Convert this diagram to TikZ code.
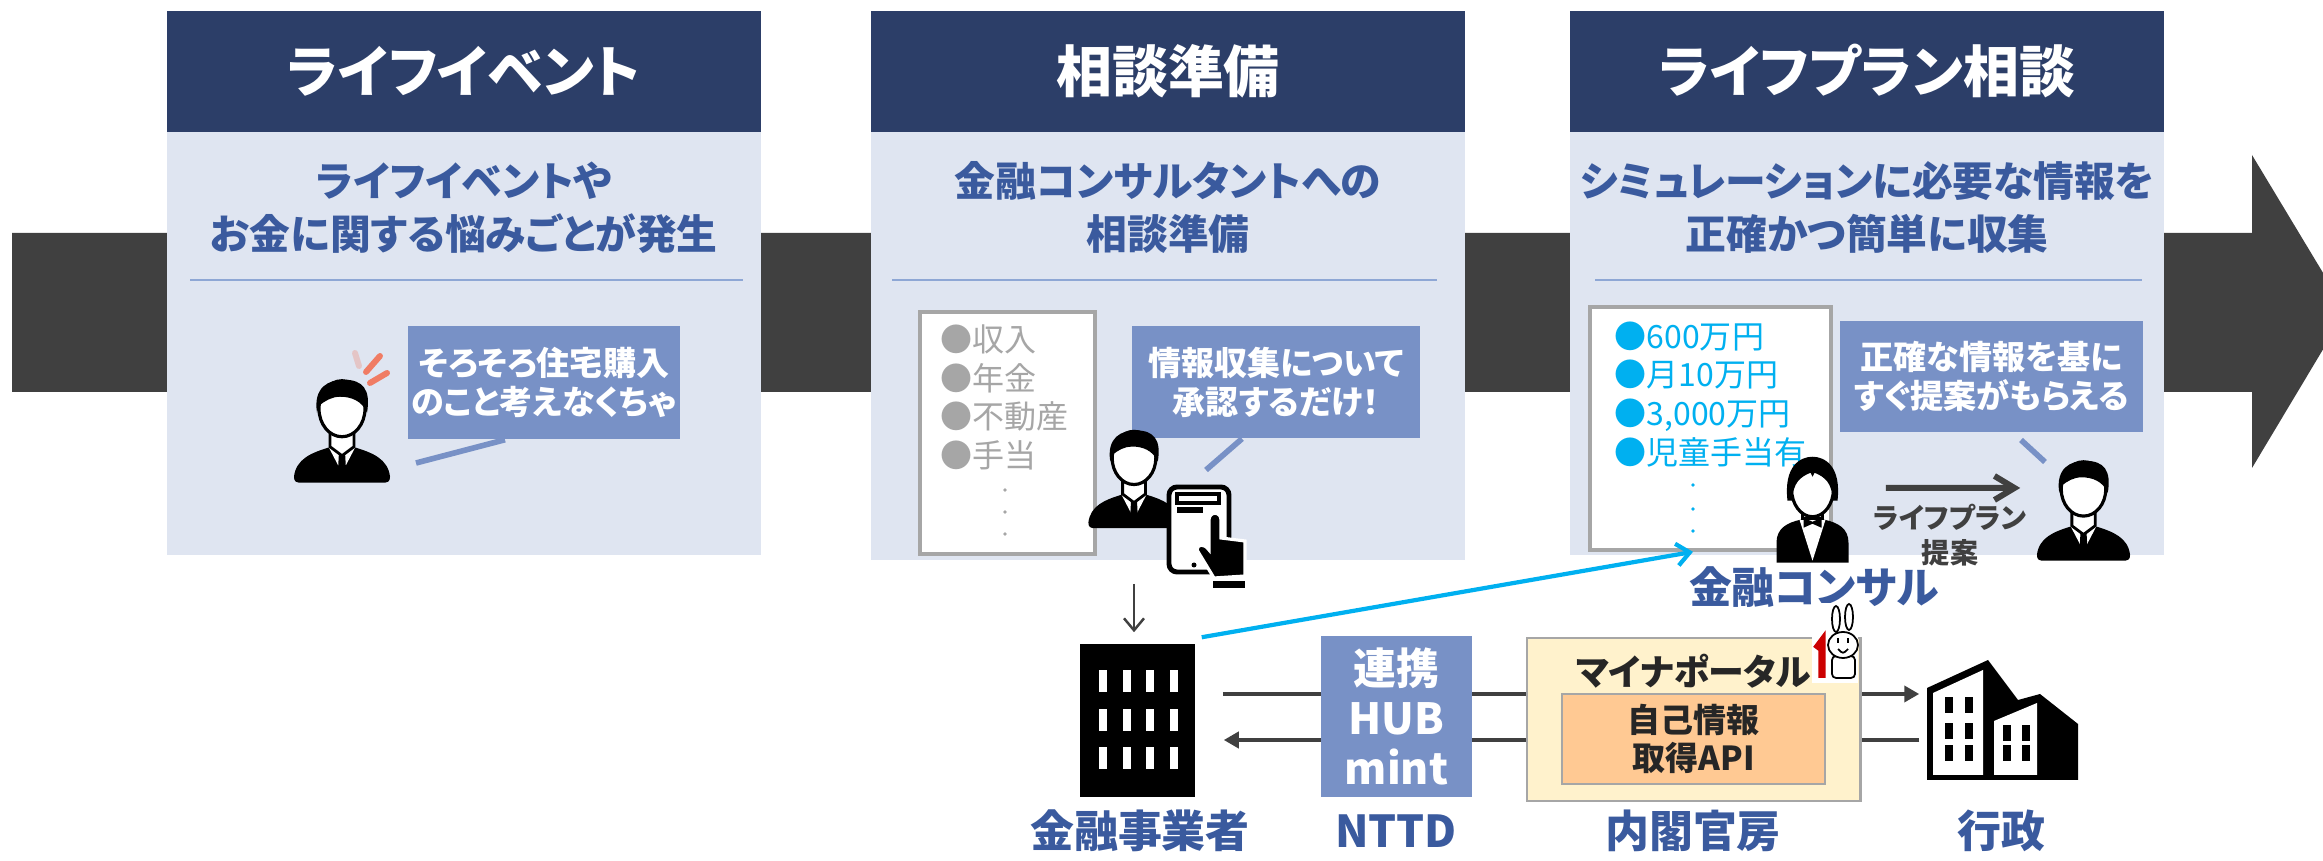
\documentclass[tikz,border=0pt]{standalone}
\usepackage{fontspec}
\setmainfont{Noto Sans CJK JP}[RawFeature=+palt]
\usetikzlibrary{arrows.meta}

\definecolor{navy}{HTML}{2C3E68}
\definecolor{panelbg}{HTML}{DFE5F1}
\definecolor{bubblebl}{HTML}{7891C6}
\definecolor{txtblue}{HTML}{3A5A9E}
\definecolor{sepblue}{HTML}{8EA7D5}
\definecolor{bargray}{HTML}{404040}
\definecolor{listgray}{HTML}{A6A6A6}
\definecolor{listcyan}{HTML}{00B0F0}
\definecolor{portalbg}{HTML}{FFF2CC}
\definecolor{apibg}{HTML}{FFC993}
\definecolor{darktext}{HTML}{262626}
\definecolor{alertred}{HTML}{F07C64}

\begin{document}
\begin{tikzpicture}[
					x = 0.01cm,
					y = -0.01cm,
					every node/.style = {
						inner sep = 0pt,
						font = \bfseries,
					},
					header/.style = {
						fill = navy,
						text = white,
						minimum width = 5.94cm,
						minimum height = 1.21cm,
						font = \fontsize{15.9pt}{19pt}\selectfont\bfseries,
					},
					panel/.style = {
						fill = panelbg,
						minimum width = 5.94cm,
						minimum height = 4.23cm,
					},
					subtitle/.style = {
						text = txtblue,
						align = center,
						font = \fontsize{11.6pt}{15.1pt}\selectfont\bfseries,
					},
					sepline/.style = {draw = sepblue, line width = 0.6pt},
					listbox/.style = {
						fill = white,
						draw = listgray,
						line width = 1pt,
						minimum width = 1.75cm,
						minimum height = 2.42cm,
					},
					listitem/.style = {
						align = left,
						font = \fontsize{9.1pt}{11pt}\selectfont,
					},
					bubble/.style = {
						fill = bubblebl,
						text = white,
						align = center,
						font = \fontsize{9.4pt}{11.1pt}\selectfont\bfseries,
					},
					tail/.style = {draw = bubblebl, line width = 1.6pt},
					alert/.style = {draw = alertred, line width = 1.7pt, line cap = round},
					figbox/.style = {minimum width = 0.95cm, minimum height = 1cm},
					botlabel/.style = {
						text = txtblue,
						font = \fontsize{12.5pt}{15pt}\selectfont\bfseries,
					},
					flow/.style = {draw = bargray, line width = 1.1pt},
					planarrow/.style = {
						draw = bargray,
						line width = 1.7pt,
						-{Straight Barb[length = 0.2cm, width = 0.24cm]},
						shorten <= 0.37cm,
						shorten >= 0.16cm,
					},
					linkarrow/.style = {
						draw = listcyan,
						line width = 1.2pt,
						-{Straight Barb[length = 0.13cm, width = 0.22cm]},
					},
					person/.pic = {
						\begin{scope}[yscale = -1]
							\fill (-48,6) .. controls (-46,24) and (-30,30) .. (-14,35) -- (14,35) .. controls (30,30) and (46,24) .. (48,6) .. controls (48,1) and (46,0) .. (40,0) -- (-40,0) .. controls (-46,0) and (-48,1) .. (-48,6) -- cycle;
							\fill[white] (-13,35) -- (0,10) -- (13,35) -- cycle;
							\fill (-3,31) -- (3,31) -- (4,13) -- (0,8) -- (-4,13) -- cycle;
							\filldraw[fill = white, line width = 0.8pt] (-12,56) -- (-12,36) -- (0,27) -- (12,36) -- (12,56);
							\filldraw[fill = white, line width = 0.9pt] (0,74) ellipse (23 and 28);
							\fill (-25,70) .. controls (-29,96) and (-13,103) .. (2,103) .. controls (21,103) and (29,93) .. (25,70) .. controls (20,82) and (9,86) .. (-2,86) .. controls (-10,86) and (-17,82) .. (-23,77) -- cycle;
						\end{scope}
					},
					consultant/.pic = {
						\begin{scope}[yscale = -1]
							\fill (-36,0) -- (-36,20) .. controls (-36,34) and (-26,40) .. (-12,43) -- (12,43) .. controls (26,40) and (36,34) .. (36,20) -- (36,0) -- cycle;
							\fill[white] (-13,43) -- (0,2) -- (13,43) -- cycle;
							\filldraw[fill = white, line width = 0.8pt] (-10,58) -- (-10,44) -- (10,44) -- (10,58);
							\fill (-9,45) -- (-9,35) -- (0,39) -- (9,35) -- (9,45) -- (0,41) -- cycle;
							\filldraw[fill = white, line width = 0.9pt] (0,74) ellipse (21 and 28);
							\fill (-25,62) .. controls (-29,97) and (-12,106) .. (0,106) .. controls (12,106) and (29,97) .. (25,62) -- (20,62) .. controls (20,80) and (12,86) .. (2,90) -- (0,86) -- (-2,90) .. controls (-12,86) and (-20,80) .. (-20,62) -- cycle;
						\end{scope}
					},
			]
				\useasboundingbox (0,0) rectangle (2323,861);
				\clip (0,0) rectangle (2323,861);

				\fill[bargray] (12,233) -- (2252,233) -- (2252,155) -- (2346,311) -- (2252,468) -- (2252,392) -- (12,392) -- cycle;

				\draw (464, 71.5) node (h1) [header] {ライフイベント};
				\draw (464, 343.5) node (p1) [panel] {};
				\draw (1168, 71.5) node (h2) [header] {相談準備};
				\draw (1168, 346) node (p2) [panel, minimum height = 4.28cm] {};
				\draw (1867, 71.5) node (h3) [header] {ライフプラン相談};
				\draw (1867, 343.5) node (p3) [panel] {};

				\draw (464, 207.5) node (s1) [subtitle] {ライフイベントや\\お金に関する悩みごとが発生};
				\draw (1168, 207.5) node (s2) [subtitle] {金融コンサルタントへの\\相談準備};
				\draw (1867, 207.5) node (s3) [subtitle] {シミュレーションに必要な情報を\\正確かつ簡単に収集};

				\draw[sepline] (190, 280) -- (743, 280);
				\draw[sepline] (892, 280) -- (1437, 280);
				\draw[sepline] (1595, 280) -- (2142, 280);

				\draw (1007.5, 433) node (l2) [listbox] {};
				\draw (940, 324) node (l2t) [listitem, text = listgray, anchor = north west] {●収入\\●年金\\●不動産\\●手当};
				\foreach \y in {490, 512, 534}
					\fill[listgray] (1005, \y) circle (1.8);
				\draw (1710.5, 428.5) node (l3) [listbox, minimum width = 2.41cm, minimum height = 2.43cm] {};
				\draw (1614, 321) node (l3t) [listitem, text = listcyan, anchor = north west] {●600万円\\●月10万円\\●3,000万円\\●児童手当有};
				\foreach \y in {485, 509, 531}
					\fill[listcyan] (1693, \y) circle (1.8);

				\draw (544, 382.5) node (c1) [bubble, minimum width = 2.72cm, minimum height = 1.13cm] {そろそろ住宅購入\\のこと考えなくちゃ};
				\draw (1276, 382) node (c2) [bubble, minimum width = 2.88cm, minimum height = 1.12cm] {情報収集について\\承認するだけ！};
				\draw (1991.5, 376.5) node (c3) [bubble, minimum width = 3.03cm, minimum height = 1.11cm] {正確な情報を基に\\すぐ提案がもらえる};

				\coordinate (t1) at (416, 463);
				\coordinate (t2) at (1206, 470);
				\coordinate (t3a) at (2021, 440);
				\coordinate (t3b) at (2045, 462);
				\draw[tail] ([xshift = -0.39cm]c1.south) -- (t1);
				\draw[tail] ([xshift = -0.34cm]c2.south) -- (t2);
				\draw[tail] (t3a) -- (t3b);

				\draw (342, 432) node (pers1) [figbox] {};
				\pic at (pers1.south) {person};
				\draw[alert] (366, 372) -- (380, 356);
				\draw[alert] (370, 383) -- (387, 373);
				\draw[alert, opacity = 0.3] (355, 353) -- (359, 366);

				\draw (1134, 477.5) node (pers2) [figbox] {};
				\pic[scale = 0.95] at (pers2.south) {person};
				\filldraw[fill = white, line width = 1.4pt, rounded corners = 0.08cm] (1169, 487) rectangle (1229, 572);
				\draw[line width = 1pt] (1177, 494) rectangle (1219, 503);
				\fill (1177, 507) rectangle (1203, 513);
				\fill (1194, 565) circle (2.5);
				\filldraw[fill = black, draw = white, line width = 0.9pt] (1209, 520) .. controls (1209, 511) and (1221, 511) .. (1221, 520) -- (1221, 538) -- (1245, 541) -- (1245, 576) -- (1214, 578) -- (1197, 550) .. controls (1197, 544) and (1204, 543) .. (1209, 550) -- cycle;
				\fill (1213, 581) rectangle (1245, 588);

				\draw (1812.5, 509.5) node (cons) [figbox, minimum width = 0.71cm, minimum height = 1.05cm] {};
				\pic at (cons.south) {consultant};
				\draw (2083.5, 511.5) node (cust) [figbox, minimum width = 0.93cm, minimum height = 0.97cm] {};
				\pic[scale = 0.97] at (cust.south) {person};
				\draw[planarrow] ([yshift = 0.215cm]cons.east) -- ([yshift = 0.235cm]cust.west);
				\draw (1950, 535.5) node (plan) [text = bargray, align = center, font = \fontsize{8pt}{10pt}\selectfont\bfseries] {ライフプラン\\提案};
				\draw (1814, 587) node (consl) [botlabel, font = \fontsize{12.2pt}{15pt}\selectfont\bfseries] {金融コンサル};

				\draw (1137.5, 720.5) node (fin) [fill = black, minimum width = 1.15cm, minimum height = 1.53cm] {};
				\foreach \x in {1103, 1126.5, 1150, 1174}
					\foreach \y in {681, 720, 758}
						\fill[white] (\x-4, \y-11) rectangle (\x+4, \y+11);
				\draw (2002.5, 720.5) node (gov) [minimum width = 1.51cm, minimum height = 1.2cm] {};
				\fill (1927, 688) -- (1988, 660) -- (2018, 700) -- (2040, 694) -- (2078, 724) -- (2078, 780) -- (1927, 780) -- cycle;
				\fill[white] (1933, 693) -- (1983, 670) -- (1983, 775) -- (1933, 775) -- cycle;
				\fill[white] (1994, 721) -- (2037, 703) -- (2037, 775) -- (1994, 775) -- cycle;
				\foreach \x in {1948.5, 1969}
					\foreach \y in {705, 731, 753}
						\fill (\x-4, \y-8) rectangle (\x+4, \y+8);
				\foreach \x in {2006.5, 2026}
					\foreach \y in {733, 753}
						\fill (\x-4, \y-8) rectangle (\x+4, \y+8);

				\coordinate (d1) at (1134, 584);
				\draw[draw = bargray, line width = 0.7pt, -{Straight Barb[length = 0.12cm, width = 0.2cm]}, shorten >= 0.11cm] (d1) -- (d1 |- fin.north);
				\draw[flow, -{Triangle[length = 0.15cm, width = 0.16cm]}, shorten <= 0.27cm, shorten >= 0.07cm] ([yshift = 0.265cm]fin.east) -- ([yshift = 0.265cm]gov.west);
				\draw[flow, -{Triangle[length = 0.15cm, width = 0.16cm]}, shorten <= 0.07cm, shorten >= 0.28cm] ([yshift = -0.195cm]gov.west) -- ([yshift = -0.195cm]fin.east);
				\draw[linkarrow] ([shift = {(0.06cm, 0.06cm)}]fin.north east) -- ([xshift = -0.175cm]l3.south);

				\draw (1396.5, 716.5) node (hub) [fill = bubblebl, text = white, align = center, minimum width = 1.51cm, minimum height = 1.61cm, font = \fontsize{12.2pt}{14.2pt}\selectfont\bfseries] {連携\\HUB\\mint};
				\draw (1693.5, 719.5) node (portal) [fill = portalbg, draw = listgray, line width = 0.8pt, minimum width = 3.33cm, minimum height = 1.63cm] {};
				\draw (1693.5, 671) node (portalt) [text = darktext, font = \fontsize{10.2pt}{12pt}\selectfont\bfseries] {マイナポータル};
				\draw (1693.5, 739) node (api) [fill = apibg, draw = listgray, line width = 0.7pt, text = darktext, align = center, minimum width = 2.63cm, minimum height = 0.9cm, font = \fontsize{9.4pt}{10.8pt}\selectfont\bfseries] {自己情報\\取得API};

				\fill[white] (1812, 603) rectangle (1858, 683);
				\draw[line width = 0.5pt, fill = white] (1836, 619) ellipse (4 and 13);
				\draw[line width = 0.5pt, fill = white] (1849, 617) ellipse (4 and 13);
				\draw[line width = 0.5pt, fill = white, rounded corners = 0.04cm] (1832, 656) rectangle (1855, 678);
				\draw[line width = 0.5pt, fill = white] (1843, 645) ellipse (15 and 13);
				\draw[line width = 0.5pt] (1838, 638) -- (1838, 643);
				\draw[line width = 0.5pt] (1848, 638) -- (1848, 643);
				\draw[line width = 0.5pt] (1838, 649) .. controls (1843, 654) .. (1848, 649);
				\draw[draw = red!80!black, line width = 2pt] (1816, 649) -- (1822, 641) -- (1822, 678);

				\draw (1140, 831) node (finl) [botlabel] {金融事業者};
				\draw (1396, 831) node (hubl) [botlabel] {NTTD};
				\draw (1693, 831) node (portall) [botlabel] {内閣官房};
				\draw (2001, 831) node (govl) [botlabel] {行政};
			\end{tikzpicture}
\end{document}
